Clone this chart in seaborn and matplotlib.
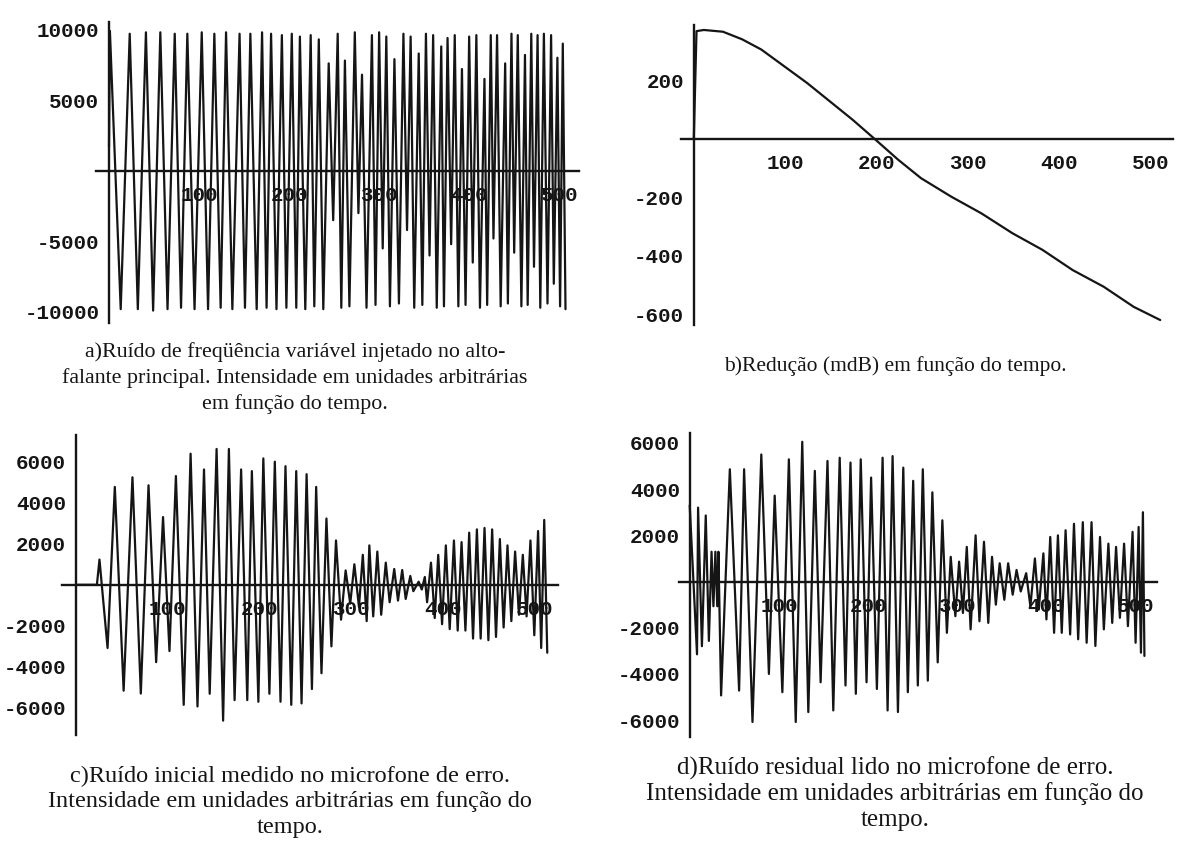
import numpy as np
import pandas as pd
import matplotlib
matplotlib.use("Agg")
import matplotlib.pyplot as plt
import seaborn as sns

# ---------------- data ----------------
# a) variable-frequency noise fed to the main loudspeaker: extrema (time, value)
a_top_t = [1, 23, 41, 57, 73, 87, 103, 117, 130, 145, 157, 170, 180, 192, 203, 212, 224,
           233, 244, 254, 262, 273, 281, 292, 300, 308, 317, 327, 335, 344, 352, 360, 369,
           376, 384, 392, 400, 408, 417, 424, 431, 440, 447, 454, 462, 469, 476, 483, 491,
           498, 504]
a_top_v = [9900, 9700, 9800, 9800, 9700, 9700, 9800, 9700, 9800, 9700, 9700, 9800, 9700,
           9600, 9700, 9500, 9600, 9300, 7600, 9700, 7800, 9800, 6800, 9600, 9800, 9500,
           7900, 9700, 9500, 8300, 9700, 9600, 8800, 9400, 9600, 7200, 9500, 9600, 6500,
           9600, 9600, 7600, 9700, 9600, 8200, 9700, 9600, 9700, 9600, 8000, 9000]
a_bot_t = [13, 32, 49, 65, 80, 95, 110, 124, 137, 151, 164, 175, 186, 197, 208, 218, 228,
           238, 249, 258, 267, 277, 286, 296, 304, 312, 322, 331, 339, 348, 356, 364, 372,
           380, 388, 396, 404, 412, 420, 427, 435, 443, 450, 458, 465, 472, 479, 487, 494,
           501, 507]
a_bot_v = [-9800, -9800, -9900, -9800, -9700, -9800, -9800, -9700, -9800, -9700, -9800,
           -9700, -9800, -9700, -9700, -9800, -9600, -9800, -3500, -9700, -9600, -3000,
           -9700, -9500, -5500, -9600, -9400, -4200, -9700, -9500, -6000, -9700, -9600,
           -5200, -9600, -9500, -6500, -9700, -9500, -4800, -9600, -9400, -5800, -9600,
           -9500, -6800, -9700, -9400, -8000, -9600, -9800]
a_start = (0, 1700)

# b) reduction (mdB) versus time
b_t = [0, 3, 11, 32, 53, 74, 99, 124, 149, 174, 199, 224, 249, 282, 315, 349, 382, 415,
       449, 482, 511]
b_v = [0, 369, 373, 367, 341, 306, 249, 192, 129, 66, -2, -71, -134, -197, -254, -322,
       -379, -448, -505, -574, -619]

# c) initial noise at the error microphone: extrema (time, value)
c_t = [0, 23, 25.8, 34.6, 42.5, 52.1, 61.7, 70.8, 79.2, 87.5, 95, 102, 109, 117.5, 125,
       132.5, 139.6, 145.8, 153.3, 160.4, 166.7, 172.9, 180, 186.7, 191.7, 198.8, 204.2,
       210.8, 216.7, 222.9, 228.3, 234.6, 240, 245.8, 251.3, 257.1, 261.7, 267.5, 272.9,
       278.3, 283.3, 288.8, 293.8, 298.8, 303.3, 308.3, 312.5, 316.7, 319.6, 323.8, 328.3,
       332.5, 337.5, 341.7, 346.7, 350.8, 355.4, 359.2, 364.2, 367.5, 373.3, 376.7, 380,
       382.5, 386.7, 390.8, 394.6, 398.8, 402.9, 407.1, 411.7, 415.8, 420, 424.2, 428.3,
       432.5, 436.7, 440.8, 445, 449.2, 453.3, 457.5, 461.7, 465.8, 470, 474.2, 478.3,
       482.5, 486.7, 490.8, 495, 499.2, 503.3, 506.7, 510, 513.3]
c_v = [0, 0, 1230, -3080, 4770, -5160, 5240, -5300, 4850, -3770, 3300, -3230, 5300, -5850,
       6390, -5930, 5620, -5310, 6620, -6620, 6620, -5620, 5620, -5620, 5540, -5700, 6160,
       -5310, 6000, -5700, 5780, -5850, 5540, -5780, 5390, -5080, 4770, -4310, 3230, -3000,
       2160, -1700, 700, -920, 1000, -1080, 1460, -1770, 1920, -1540, 1620, -1460, 1080,
       -850, 770, -770, 720, -690, 430, -310, 150, -230, 380, -850, 1080, -1620, 1460,
       -1920, 1920, -2160, 2160, -2230, 2080, -2230, 2540, -2620, 2700, -2620, 2770, -2700,
       2700, -2540, 2230, -2080, 1920, -1770, 1620, -1460, 1460, -1540, 2160, -2460, 2620,
       -3080, 3160, -3310]

# d) residual noise at the error microphone: extrema (time, value)
d_t = [0, 8.2, 9.4, 13.7, 18, 21.5, 24.5, 26.6, 28.8, 30.9, 32.2, 35.2, 45, 55.4, 61,
       70.4, 80.3, 88.8, 95.3, 103.9, 111.2, 118.9, 126.2, 133, 140.3, 146.8, 154.5, 161,
       168.2, 174.7, 180.3, 186.3, 191.8, 198.3, 203.4, 209.9, 216.3, 221.9, 227.5, 233.5,
       239.5, 244.6, 250.6, 255.8, 261.4, 267, 272.1, 278.1, 283.3, 288.4, 292.7, 297.9,
       302.1, 306.4, 310.7, 315, 320.6, 324.9, 330, 334.8, 339, 343.3, 347.6, 352.8,
       357.1, 362.2, 366.5, 371.2, 377.3, 382, 387.1, 391.4, 396.6, 400, 404.3, 408.6,
       412.9, 417.2, 421.5, 426.6, 430.9, 435.6, 440.8, 445.1, 450.6, 454.9, 460.1,
       464.4, 469.5, 473.8, 478.1, 482.4, 487.1, 491.4, 496.6, 500, 503.4, 506, 508.2,
       509.9]
d_v = [3300, -3150, 3200, -2800, 2860, -2570, 1290, -1070, 1290, -1070, 1290, -4930, 4860,
       -4720, 4860, -6080, 5500, -4000, 3720, -4790, 5290, -6080, 6050, -5650, 4790, -4360,
       5220, -5580, 5360, -4500, 5150, -4860, 5290, -4360, 4500, -4650, 5360, -5580, 5430,
       -5650, 4930, -4790, 4360, -4500, 4860, -4290, 3860, -3500, 2650, -2220, 1070, -1500,
       860, -1360, 1500, -2070, 2000, -1720, 1720, -1790, 1070, -1000, 790, -790, 790,
       -570, 500, -430, 360, -1070, 1000, -1220, 1220, -1640, 1930, -2220, 2000, -2220,
       2220, -2290, 2500, -2500, 2570, -2650, 2570, -2790, 1930, -2070, 1640, -1790, 1500,
       -1570, 1640, -1930, 2150, -2650, 2360, -3080, 3000, -3220]

x_ticks = [100, 200, 300, 400, 500]
a_yticks = [-10000, -5000, 5000, 10000]
b_yticks = [-600, -400, -200, 200]
cd_yticks = [-6000, -4000, -2000, 2000, 4000, 6000]

cap_a = ["a)Ruído de freqüência variável injetado no alto-",
         "falante principal. Intensidade em unidades arbitrárias",
         "em função do tempo."]
cap_b = ["b)Redução (mdB) em função do tempo."]
cap_c = ["c)Ruído inicial medido no microfone de erro.",
         "Intensidade em unidades arbitrárias em função do",
         "tempo."]
cap_d = ["d)Ruído residual lido no microfone de erro.",
         "Intensidade em unidades arbitrárias em função do",
         "tempo."]

# ---------------- style ----------------
sns.set_theme(style="white")
plt.rcParams["font.family"] = ["Liberation Mono", "DejaVu Sans"]
INK = "#151515"

W, H = 1182, 842
fig = plt.figure(figsize=(W / 100, H / 100), dpi=100)
fig.patch.set_facecolor("white")


def make_axes(left, top, right, bottom):
    return fig.add_axes([left / W, 1 - bottom / H, (right - left) / W, (bottom - top) / H])


def style_axes(ax, xlim, ylim, yticks):
    ax.set_facecolor("white")
    ax.set_xlim(*xlim)
    ax.set_ylim(*ylim)
    for side in ("top", "right"):
        ax.spines[side].set_visible(False)
    ax.spines["left"].set_position(("data", 0))
    ax.spines["bottom"].set_position(("data", 0))
    for side in ("left", "bottom"):
        ax.spines[side].set_color(INK)
        ax.spines[side].set_linewidth(1.7)
        ax.spines[side].set_zorder(3)
    ax.set_xticks(x_ticks)
    ax.set_xticklabels([str(v) for v in x_ticks])
    ax.set_yticks(yticks)
    ax.set_yticklabels([str(v) for v in yticks])
    ax.tick_params(axis="both", which="both", direction="in", length=3, width=1,
                   color=INK, labelcolor=INK, labelsize=15)
    ax.tick_params(axis="x", pad=11)
    ax.tick_params(axis="y", pad=7)
    for lab in ax.get_xticklabels() + ax.get_yticklabels():
        lab.set_fontweight("bold")
        lab.set_zorder(1)
    ax.set_xlabel("")
    ax.set_ylabel("")
    ax.grid(False)


def trace(ax, t, v, lw=1.3):
    df = pd.DataFrame({"t": t, "v": v})
    sns.lineplot(data=df, x="t", y="v", ax=ax, color=INK, linewidth=lw,
                 sort=False, estimator=None, zorder=2,
                 solid_joinstyle="round", solid_capstyle="round")


# a)
ext = sorted(list(zip(a_top_t, a_top_v)) + list(zip(a_bot_t, a_bot_v)))
a_t = [a_start[0]] + [p[0] for p in ext]
a_v = [a_start[1]] + [p[1] for p in ext]
ax_a = make_axes(95.5, 22, 579, 323)
trace(ax_a, a_t, a_v, lw=1.6)
style_axes(ax_a, (-15, 522), (-10780, 10530), a_yticks)

# b)
ax_b = make_axes(681, 25, 1173, 325)
trace(ax_b, b_t, b_v, lw=1.6)
style_axes(ax_b, (-14, 525), (-636, 390), b_yticks)

# c)
ax_c = make_axes(62, 435, 558, 735)
trace(ax_c, c_t, c_v, lw=1.6)
style_axes(ax_c, (-15, 525), (-7320, 7300), cd_yticks)

# d)
ax_d = make_axes(679, 433, 1157, 737)
trace(ax_d, d_t, d_v, lw=1.6)
style_axes(ax_d, (-12, 524), (-6730, 6430), cd_yticks)


# captions
def caption(lines, cx, y0, size, step=26):
    for i, line in enumerate(lines):
        fig.text(cx / W, 1 - (y0 + i * step) / H, line, ha="center", va="center",
                 family=["Liberation Serif", "DejaVu Serif"], fontsize=size, color=INK)


caption(cap_a, 295, 352, 15.8)
caption(cap_b, 895, 366, 15.5)
caption(cap_c, 290, 776, 17.5)
caption(cap_d, 895, 768, 18)

fig.savefig("out.png", dpi=100, facecolor="white")
